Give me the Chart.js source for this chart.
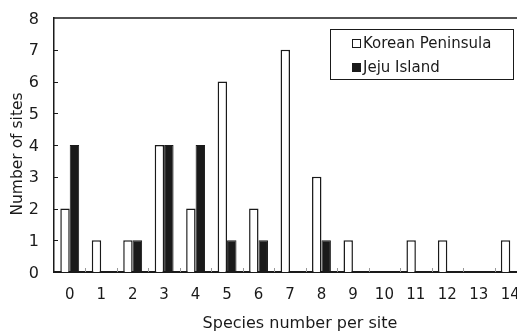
<!DOCTYPE html>
<html>
<head>
<meta charset="utf-8">
<script src="https://cdn.jsdelivr.net/npm/chart.js@4"></script>
<style>
  html, body { margin: 0; padding: 0; background: #fff; overflow: hidden; }
  #wrap { width: 527px; height: 334px; }
</style>
</head>
<body>
<div id="wrap"><canvas id="sites-chart"></canvas></div>
<script>
const speciesNumbers = ['0', '1', '2', '3', '4', '5', '6', '7', '8', '9', '10', '11', '12', '13', '14'];
const koreanPeninsula = [2, 1, 1, 4, 2, 6, 2, 7, 3, 1, 0, 1, 1, 0, 1];
const jejuIsland = [4, 0, 1, 4, 4, 1, 1, 0, 1, 0, 0, 0, 0, 0, 0];
const yTicks = [0, 1, 2, 3, 4, 5, 6, 7, 8];
const xTitle = 'Species number per site';
const yTitle = 'Number of sites';

const FONT = "'DejaVu Sans', sans-serif";
const INK = '#1a1a1a';

// frame line on top, inward tick marks, axis titles and the boxed legend
const framePlugin = {
    id: 'frame',
    afterDraw(chart) {
        const ctx = chart.ctx;
        const area = chart.chartArea;
        const x = chart.scales.x;
        const y = chart.scales.y;
        ctx.save();

        ctx.strokeStyle = INK;
        ctx.lineWidth = 1.5;
        ctx.beginPath();
        ctx.moveTo(area.left, area.top);
        ctx.lineTo(area.right, area.top);
        ctx.stroke();

        // y ticks point into the plot
        ctx.lineWidth = 1;
        ctx.beginPath();
        yTicks.slice(1, -1).forEach(v => {
            const py = Math.round(y.getPixelForValue(v)) + 0.5;
            ctx.moveTo(area.left, py);
            ctx.lineTo(area.left + 4, py);
        });
        ctx.stroke();

        // x ticks sit between categories
        ctx.strokeStyle = '#999';
        ctx.beginPath();
        for (let i = 1; i < speciesNumbers.length; i++) {
            const px = Math.round((x.getPixelForValue(i - 1) + x.getPixelForValue(i)) / 2) + 0.5;
            ctx.moveTo(px, area.bottom);
            ctx.lineTo(px, area.bottom - 4);
        }
        ctx.stroke();

        // axis titles
        ctx.fillStyle = INK;
        ctx.textAlign = 'center';
        ctx.textBaseline = 'middle';
        ctx.font = '16px ' + FONT;
        ctx.fillText(xTitle, 300, 324);
        ctx.save();
        ctx.translate(18, 154);
        ctx.rotate(-Math.PI / 2);
        ctx.font = '15.5px ' + FONT;
        ctx.fillText(yTitle, 0, 0);
        ctx.restore();

        // legend
        const bx = 330, by = 29, bw = 183, bh = 50;
        ctx.fillStyle = '#fff';
        ctx.fillRect(bx, by, bw, bh);
        ctx.strokeStyle = INK;
        ctx.lineWidth = 1;
        ctx.strokeRect(bx + 0.5, by + 0.5, bw, bh);
        ctx.font = '15px ' + FONT;
        ctx.textAlign = 'left';
        chart.data.datasets.forEach((ds, i) => {
            const cy = 43 + i * 24;
            ctx.fillStyle = ds.backgroundColor;
            ctx.fillRect(352, cy - 4, 9, 9);
            ctx.strokeStyle = INK;
            ctx.strokeRect(352.5, cy - 3.5, 8, 8);
            ctx.fillStyle = INK;
            ctx.fillText(ds.label, 363, cy + 1);
        });
        ctx.restore();
    }
};

// empty bars get no outline so the axis stays clean
const outline = w => c => (c.raw === 0 ? 0 : w);

new Chart(document.getElementById('sites-chart'), {
    type: 'bar',
    data: {
        labels: speciesNumbers,
        datasets: [{
            label: 'Korean Peninsula',
            data: koreanPeninsula,
            backgroundColor: '#ffffff',
            borderColor: INK,
            borderWidth: outline(1.5),
            categoryPercentage: 0.6,
            barPercentage: 1.0
        }, {
            label: 'Jeju Island',
            data: jejuIsland,
            backgroundColor: INK,
            borderColor: INK,
            borderWidth: outline(1),
            categoryPercentage: 0.6,
            barPercentage: 1.0
        }]
    },
    options: {
        responsive: true,
        maintainAspectRatio: false,
        animation: false,
        layout: { padding: { top: 18, right: 1, left: 0, bottom: 0 } },
        plugins: {
            legend: { display: false },
            tooltip: { enabled: false }
        },
        scales: {
            x: {
                grid: { display: false, drawTicks: false },
                border: { color: INK, width: 2 },
                ticks: { color: INK, padding: 14, font: { family: FONT, size: 15 }, maxRotation: 0, autoSkip: false },
                afterFit(scale) {
                    scale.height = 62;
                    scale.paddingLeft = 0;
                    scale.paddingRight = 0;
                }
            },
            y: {
                min: 0,
                max: 8,
                grid: { display: false, drawTicks: false },
                border: { color: INK, width: 1.5 },
                ticks: { stepSize: 1, color: INK, padding: 15, labelOffset: 1.5, font: { family: FONT, size: 16 } },
                afterFit(scale) {
                    scale.width = 54;
                    scale.paddingTop = 0;
                    scale.paddingBottom = 0;
                }
            }
        }
    },
    plugins: [framePlugin]
});
</script>
</body>
</html>
